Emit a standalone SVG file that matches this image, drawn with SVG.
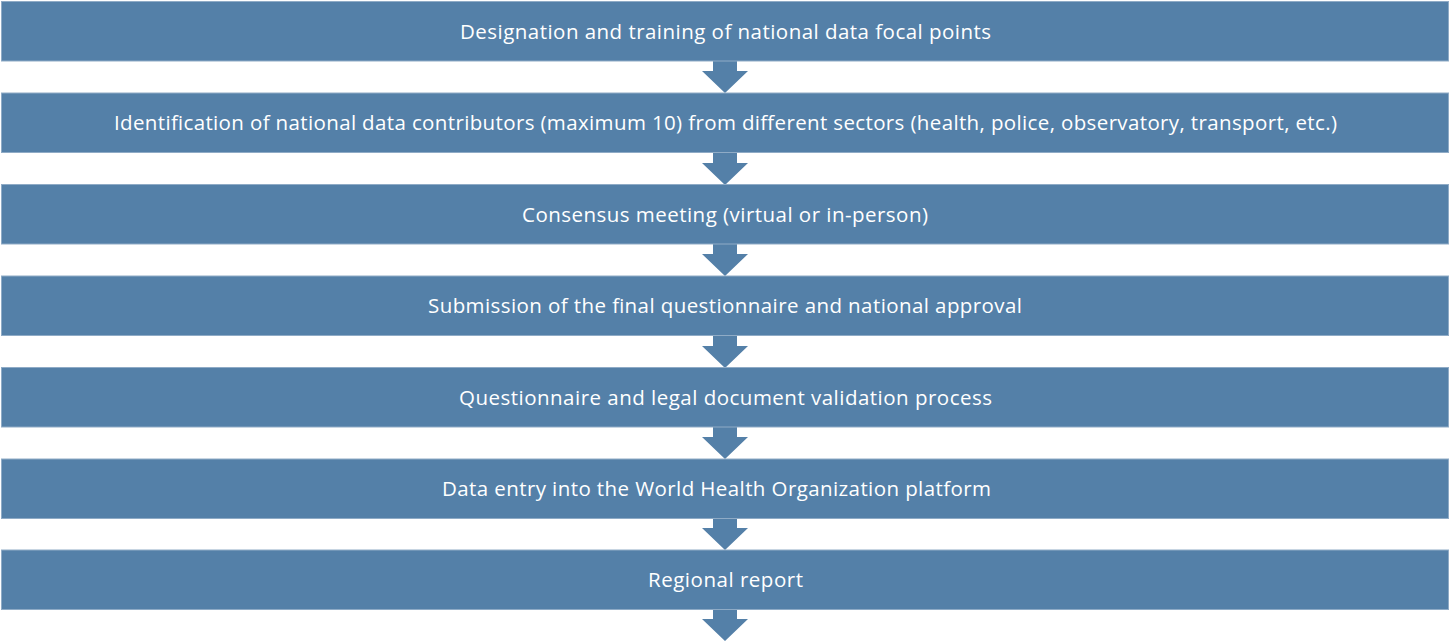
<svg xmlns="http://www.w3.org/2000/svg" width="1451" height="644" viewBox="0 0 1451 644">
<style>
.bar{fill:#5480a8;stroke:#8fabc6;stroke-width:1}
.lbl{font-family:"Open Sans","Noto Sans",sans-serif;font-size:20.5px;fill:#ffffff;text-anchor:middle}
.arr{fill:#5480a8}
</style>
<defs>
<polygon id="ah" points="-12,0 12,0 12,10 23,10 0,32 -23,10 -12,10"/>
</defs>
<rect width="1451" height="644" fill="#ffffff"/>
<g id="connectors">
<use href="#ah" class="arr" x="725" y="61"/>
<use href="#ah" class="arr" x="725" y="153"/>
<use href="#ah" class="arr" x="725" y="244"/>
<use href="#ah" class="arr" x="725" y="336"/>
<use href="#ah" class="arr" x="725" y="427"/>
<use href="#ah" class="arr" x="725" y="518"/>
<use href="#ah" class="arr" x="725" y="609"/>
</g>
<g id="n1"><rect class="bar" x="1.5" y="1.5" width="1447" height="59.5"/><text class="lbl" x="725.5" y="38.5" textLength="531">Designation and training of national data focal points</text></g>
<g id="n2"><rect class="bar" x="1.5" y="93" width="1447" height="59.5"/><text class="lbl" x="725.5" y="130" textLength="1223">Identification of national data contributors (maximum 10) from different sectors (health, police, observatory, transport, etc.)</text></g>
<g id="n3"><rect class="bar" x="1.5" y="184.5" width="1447" height="59.5"/><text class="lbl" x="725" y="221.5" textLength="406">Consensus meeting (virtual or in-person)</text></g>
<g id="n4"><rect class="bar" x="1.5" y="276" width="1447" height="59.5"/><text class="lbl" x="725" y="313" textLength="594">Submission of the final questionnaire and national approval</text></g>
<g id="n5"><rect class="bar" x="1.5" y="367.5" width="1447" height="59.5"/><text class="lbl" x="725.5" y="404.5" textLength="533">Questionnaire and legal document validation process</text></g>
<g id="n6"><rect class="bar" x="1.5" y="459" width="1447" height="59.5"/><text class="lbl" x="716.5" y="496" textLength="549">Data entry into the World Health Organization platform</text></g>
<g id="n7"><rect class="bar" x="1.5" y="550" width="1447" height="59.5"/><text class="lbl" x="725.5" y="587" textLength="155">Regional report</text></g>
</svg>
